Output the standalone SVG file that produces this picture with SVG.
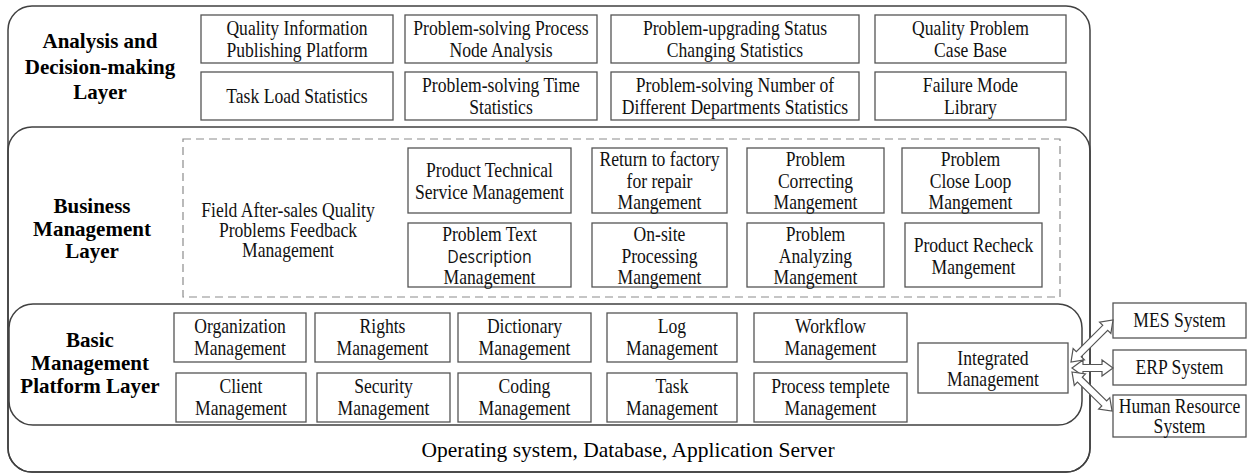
<svg xmlns="http://www.w3.org/2000/svg" width="1249" height="474" viewBox="0 0 1249 474" font-family="'Liberation Serif', Tinos, 'Times New Roman', 'DejaVu Serif', serif">
<style>
.layer{fill:none;stroke:#404040;stroke-width:1.5}
.box{fill:#fff;stroke:#555;stroke-width:1.3}
.dash{fill:none;stroke:#8c8c8c;stroke-width:1.2;stroke-dasharray:8 5}
.t{font-family:Liberation Serif, Tinos, Times New Roman, DejaVu Serif, serif;font-size:20px;fill:#111;text-anchor:middle}
.lb{font-family:Liberation Serif, Tinos, Times New Roman, DejaVu Serif, serif;font-size:21px;font-weight:bold;fill:#000;text-anchor:middle}
.os{font-family:Liberation Serif, Tinos, Times New Roman, DejaVu Serif, serif;font-size:21.5px;fill:#000;text-anchor:middle}
.arr{fill:#fff;stroke:#555;stroke-width:1.2;stroke-linejoin:miter}
</style>
<rect width="1249" height="474" fill="#fff"/>
<g id="layers">
<rect class="layer" x="8" y="6" width="1082" height="466" rx="24" ry="24"/>
<rect class="layer" x="8" y="127" width="1082" height="345" rx="24" ry="24"/>
<rect class="layer" x="9" y="304" width="1073" height="121" rx="24" ry="24"/>
<rect class="dash" x="183" y="139" width="877" height="158"/>
</g>
<g id="labels">
<text class="lb"><tspan x="100" y="48">Analysis and</tspan><tspan x="100" y="74">Decision-making</tspan><tspan x="100" y="99">Layer</tspan></text>
<text class="lb"><tspan x="92" y="213">Business</tspan><tspan x="92" y="236">Management</tspan><tspan x="92" y="258">Layer</tspan></text>
<text class="lb"><tspan x="90" y="347">Basic</tspan><tspan x="90" y="370">Management</tspan><tspan x="90" y="393">Platform Layer</tspan></text>
<text class="os" x="628" y="457">Operating system, Database, Application Server</text>
</g>
<g id="field"><g transform="translate(288,0) scale(0.88,1)"><text class="t"><tspan x="0" y="217">Field After-sales Quality</tspan><tspan x="0" y="237">Problems Feedback</tspan><tspan x="0" y="257">Management</tspan></text></g></g>

<g id="a1"><rect class="box" x="201" y="15" width="192" height="48"/><g transform="translate(297,0) scale(0.88,1)"><text class="t"><tspan x="0" y="35">Quality Information</tspan><tspan x="0" y="57">Publishing Platform</tspan></text></g></g>
<g id="a2"><rect class="box" x="405" y="15" width="192" height="48"/><g transform="translate(501,0) scale(0.88,1)"><text class="t"><tspan x="0" y="35">Problem-solving Process</tspan><tspan x="0" y="57">Node Analysis</tspan></text></g></g>
<g id="a3"><rect class="box" x="611" y="15" width="248" height="48"/><g transform="translate(735,0) scale(0.88,1)"><text class="t"><tspan x="0" y="35">Problem-upgrading Status</tspan><tspan x="0" y="57">Changing Statistics</tspan></text></g></g>
<g id="a4"><rect class="box" x="875" y="15" width="191" height="48"/><g transform="translate(970.5,0) scale(0.88,1)"><text class="t"><tspan x="0" y="35">Quality Problem</tspan><tspan x="0" y="57">Case Base</tspan></text></g></g>
<g id="a5"><rect class="box" x="201" y="72" width="192" height="48"/><g transform="translate(297,0) scale(0.88,1)"><text class="t" x="0" y="103">Task Load Statistics</text></g></g>
<g id="a6"><rect class="box" x="405" y="72" width="192" height="48"/><g transform="translate(501,0) scale(0.88,1)"><text class="t"><tspan x="0" y="92">Problem-solving Time</tspan><tspan x="0" y="114">Statistics</tspan></text></g></g>
<g id="a7"><rect class="box" x="611" y="72" width="248" height="48"/><g transform="translate(735,0) scale(0.88,1)"><text class="t"><tspan x="0" y="92">Problem-solving Number of</tspan><tspan x="0" y="114">Different Departments  Statistics</tspan></text></g></g>
<g id="a8"><rect class="box" x="875" y="72" width="191" height="48"/><g transform="translate(970.5,0) scale(0.88,1)"><text class="t"><tspan x="0" y="92">Failure Mode</tspan><tspan x="0" y="114">Library</tspan></text></g></g>

<g id="b1"><rect class="box" x="408" y="148" width="163" height="65"/><g transform="translate(489.5,0) scale(0.88,1)"><text class="t"><tspan x="0" y="177">Product Technical</tspan><tspan x="0" y="199">Service Management</tspan></text></g></g>
<g id="b2"><rect class="box" x="592" y="148" width="135" height="65"/><g transform="translate(659.5,0) scale(0.88,1)"><text class="t"><tspan x="0" y="166">Return to factory</tspan><tspan x="0" y="188">for repair</tspan><tspan x="0" y="209">Mangement</tspan></text></g></g>
<g id="b3"><rect class="box" x="747" y="148" width="137" height="65"/><g transform="translate(815.5,0) scale(0.88,1)"><text class="t"><tspan x="0" y="166">Problem</tspan><tspan x="0" y="188">Correcting</tspan><tspan x="0" y="209">Mangement</tspan></text></g></g>
<g id="b4"><rect class="box" x="902" y="148" width="137" height="65"/><g transform="translate(970.5,0) scale(0.88,1)"><text class="t"><tspan x="0" y="166">Problem</tspan><tspan x="0" y="188">Close Loop</tspan><tspan x="0" y="209">Mangement</tspan></text></g></g>
<g id="b5"><rect class="box" x="408" y="223" width="163" height="64"/><g transform="translate(489.5,0) scale(0.88,1)"><text class="t"><tspan x="0" y="241">Problem Text</tspan><tspan x="0" y="263" style="font-family:'Open Sans','Liberation Sans',sans-serif;font-size:18px">Description</tspan><tspan x="0" y="284">Management</tspan></text></g></g>
<g id="b6"><rect class="box" x="592" y="223" width="135" height="64"/><g transform="translate(659.5,0) scale(0.88,1)"><text class="t"><tspan x="0" y="241">On-site</tspan><tspan x="0" y="263">Processing</tspan><tspan x="0" y="284">Mangement</tspan></text></g></g>
<g id="b7"><rect class="box" x="747" y="223" width="137" height="64"/><g transform="translate(815.5,0) scale(0.88,1)"><text class="t"><tspan x="0" y="241">Problem</tspan><tspan x="0" y="263">Analyzing</tspan><tspan x="0" y="284">Mangement</tspan></text></g></g>
<g id="b8"><rect class="box" x="905" y="223" width="137" height="64"/><g transform="translate(973.5,0) scale(0.88,1)"><text class="t"><tspan x="0" y="252">Product Recheck</tspan><tspan x="0" y="274">Mangement</tspan></text></g></g>

<g id="c1"><rect class="box" x="174" y="313" width="132" height="49"/><g transform="translate(240,0) scale(0.88,1)"><text class="t"><tspan x="0" y="333">Organization</tspan><tspan x="0" y="355">Management</tspan></text></g></g>
<g id="c2"><rect class="box" x="315" y="313" width="135" height="49"/><g transform="translate(382.5,0) scale(0.88,1)"><text class="t"><tspan x="0" y="333">Rights</tspan><tspan x="0" y="355">Management</tspan></text></g></g>
<g id="c3"><rect class="box" x="458" y="313" width="133" height="49"/><g transform="translate(524.5,0) scale(0.88,1)"><text class="t"><tspan x="0" y="333">Dictionary</tspan><tspan x="0" y="355">Management</tspan></text></g></g>
<g id="c4"><rect class="box" x="607" y="313" width="130" height="49"/><g transform="translate(672,0) scale(0.88,1)"><text class="t"><tspan x="0" y="333">Log</tspan><tspan x="0" y="355">Management</tspan></text></g></g>
<g id="c5"><rect class="box" x="754" y="313" width="153" height="49"/><g transform="translate(830.5,0) scale(0.88,1)"><text class="t"><tspan x="0" y="333">Workflow</tspan><tspan x="0" y="355">Management</tspan></text></g></g>
<g id="c6"><rect class="box" x="176" y="373" width="130" height="49"/><g transform="translate(241,0) scale(0.88,1)"><text class="t"><tspan x="0" y="393">Client</tspan><tspan x="0" y="415">Management</tspan></text></g></g>
<g id="c7"><rect class="box" x="317" y="373" width="133" height="49"/><g transform="translate(383.5,0) scale(0.88,1)"><text class="t"><tspan x="0" y="393">Security</tspan><tspan x="0" y="415">Management</tspan></text></g></g>
<g id="c8"><rect class="box" x="458" y="373" width="133" height="49"/><g transform="translate(524.5,0) scale(0.88,1)"><text class="t"><tspan x="0" y="393">Coding</tspan><tspan x="0" y="415">Management</tspan></text></g></g>
<g id="c9"><rect class="box" x="607" y="373" width="130" height="49"/><g transform="translate(672,0) scale(0.88,1)"><text class="t"><tspan x="0" y="393">Task</tspan><tspan x="0" y="415">Management</tspan></text></g></g>
<g id="c10"><rect class="box" x="754" y="373" width="153" height="49"/><g transform="translate(830.5,0) scale(0.88,1)"><text class="t"><tspan x="0" y="393">Process templete</tspan><tspan x="0" y="415">Management</tspan></text></g></g>
<g id="integrated"><rect class="box" x="918" y="343" width="150" height="50"/><g transform="translate(993,0) scale(0.88,1)"><text class="t"><tspan x="0" y="365">Integrated</tspan><tspan x="0" y="386">Management</tspan></text></g></g>

<g id="mes"><rect class="box" x="1113" y="303" width="133" height="35"/><g transform="translate(1179.5,0) scale(0.88,1)"><text class="t" x="0" y="327">MES System</text></g></g>
<g id="erp"><rect class="box" x="1113" y="350" width="133" height="35"/><g transform="translate(1179.5,0) scale(0.88,1)"><text class="t" x="0" y="374">ERP System</text></g></g>
<g id="hr"><rect class="box" x="1113" y="395" width="133" height="42"/><g transform="translate(1179.5,0) scale(0.88,1)"><text class="t"><tspan x="0" y="413">Human Resource</tspan><tspan x="0" y="433">System</tspan></text></g></g>

<g id="connectors">
<polygon class="arr" transform="translate(1071,362) rotate(-45)" points="0,0 11,-8 11,-3.5 48.4,-3.5 48.4,-8 59.4,0 48.4,8 48.4,3.5 11,3.5 11,8"/>
<polygon class="arr" transform="translate(1072,368)" points="0,0 11,-8 11,-3.5 30,-3.5 30,-8 41,0 30,8 30,3.5 11,3.5 11,8"/>
<polygon class="arr" transform="translate(1072,372) rotate(44.3)" points="0,0 11,-8 11,-3.5 45,-3.5 45,-8 56,0 45,8 45,3.5 11,3.5 11,8"/>
</g>
</svg>
